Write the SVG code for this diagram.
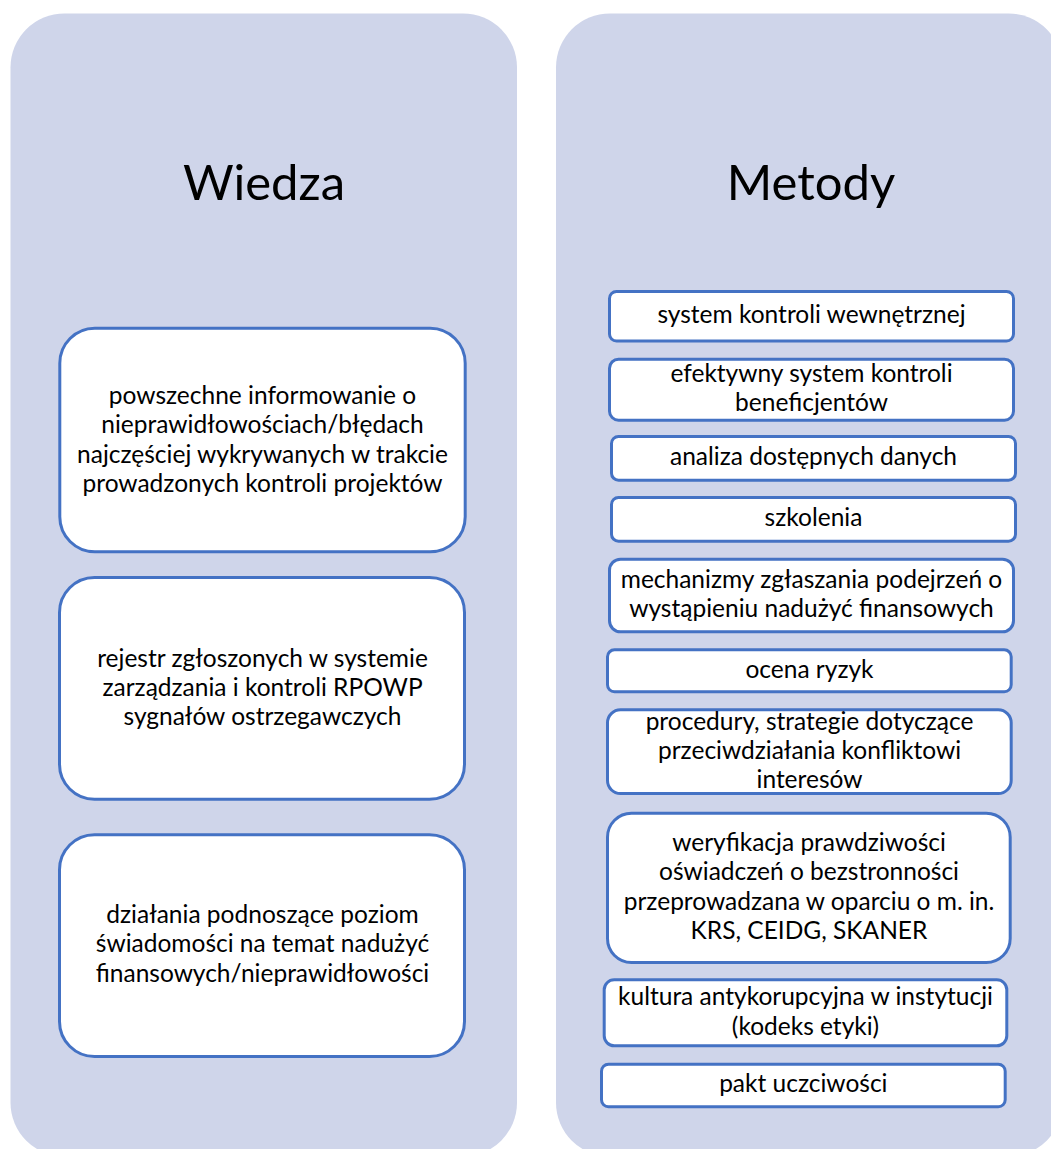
<svg xmlns="http://www.w3.org/2000/svg" width="1051" height="1149" viewBox="0 0 1051 1149">
<style>
.panel{fill:#CFD5EA;}
.box{fill:#FFFFFF;stroke:#4472C4;stroke-width:3;}
text{font-family:Lato,"Liberation Sans",sans-serif;fill:#000;text-anchor:middle;}
.title{font-size:49px;}
.t{font-size:24.5px;}
</style>
<rect width="1051" height="1149" fill="#FFFFFF"/>
<g id="panel-wiedza">
<rect class="panel" x="10.5" y="13.5" width="506.5" height="1143" rx="54" ry="54"/>
<text class="title" x="264" y="199.5">Wiedza</text>
</g>
<g id="panel-metody">
<rect class="panel" x="556" y="13.5" width="506.5" height="1143" rx="54" ry="54"/>
<text class="title" x="811" y="199.5">Metody</text>
</g>
<g id="w1">
<rect class="box" x="59.8" y="328.2" width="405.4" height="223.6" rx="35" ry="35"/>
<text class="t" x="262.5" y="404.3">powszechne informowanie o</text>
<text class="t" x="262.5" y="433.3">nieprawidłowościach/błędach</text>
<text class="t" x="262.5" y="462.7">najczęściej wykrywanych w trakcie</text>
<text class="t" x="262.5" y="491.7">prowadzonych kontroli projektów</text>
</g>
<g id="w2">
<rect class="box" x="59.5" y="577.5" width="405" height="221.7" rx="35" ry="35"/>
<text class="t" x="262.5" y="666.7">rejestr zgłoszonych w systemie</text>
<text class="t" x="262.5" y="695.7">zarządzania i kontroli RPOWP</text>
<text class="t" x="262.5" y="725">sygnałów ostrzegawczych</text>
</g>
<g id="w3">
<rect class="box" x="59.5" y="834.8" width="405" height="221.7" rx="35" ry="35"/>
<text class="t" x="262.5" y="923.3">działania podnoszące poziom</text>
<text class="t" x="262.5" y="952.3">świadomości na temat nadużyć</text>
<text class="t" x="262.5" y="981.7">finansowych/nieprawidłowości</text>
</g>
<g id="m1">
<rect class="box" x="609.5" y="291.5" width="404" height="49.5" rx="7" ry="7"/>
<text class="t" x="811.5" y="323.3">system kontroli wewnętrznej</text>
</g>
<g id="m2">
<rect class="box" x="609.5" y="359.2" width="404" height="61" rx="9" ry="9"/>
<text class="t" x="811.5" y="382.3">efektywny system kontroli</text>
<text class="t" x="811.5" y="410.7">beneficjentów</text>
</g>
<g id="m3">
<rect class="box" x="611.5" y="436.5" width="404" height="43.7" rx="7" ry="7"/>
<text class="t" x="813.5" y="465">analiza dostępnych danych</text>
</g>
<g id="m4">
<rect class="box" x="611.5" y="497.5" width="404" height="43.7" rx="7" ry="7"/>
<text class="t" x="813.5" y="526">szkolenia</text>
</g>
<g id="m5">
<rect class="box" x="609.5" y="559.2" width="404" height="72.6" rx="11" ry="11"/>
<text class="t" x="811.5" y="588.3">mechanizmy zgłaszania podejrzeń o</text>
<text class="t" x="811.5" y="617.3">wystąpieniu nadużyć finansowych</text>
</g>
<g id="m6">
<rect class="box" x="607.5" y="649.8" width="403.7" height="42" rx="7" ry="7"/>
<text class="t" x="809.5" y="678.3">ocena ryzyk</text>
</g>
<g id="m7">
<rect class="box" x="607.5" y="709.8" width="403.7" height="83.7" rx="13" ry="13"/>
<text class="t" x="809.5" y="730">procedury, strategie dotyczące</text>
<text class="t" x="809.5" y="759.3">przeciwdziałania konfliktowi</text>
<text class="t" x="809.5" y="787.7">interesów</text>
</g>
<g id="m8">
<rect class="box" x="607.5" y="813.2" width="402.7" height="149.3" rx="24" ry="24"/>
<text class="t" x="809" y="851">weryfikacja prawdziwości</text>
<text class="t" x="809" y="880">oświadczeń o bezstronności</text>
<text class="t" x="809" y="910">przeprowadzana w oparciu o m. in.</text>
<text class="t" x="809" y="939.3">KRS, CEIDG, SKANER</text>
</g>
<g id="m9">
<rect class="box" x="604.2" y="979.8" width="402.6" height="66" rx="10" ry="10"/>
<text class="t" x="805.5" y="1005">kultura antykorupcyjna w instytucji</text>
<text class="t" x="805.5" y="1035">(kodeks etyki)</text>
</g>
<g id="m10">
<rect class="box" x="601.5" y="1064.2" width="403.7" height="42.6" rx="7" ry="7"/>
<text class="t" x="803.3" y="1092.3">pakt uczciwości</text>
</g>
<g id="connectors"></g>
</svg>
